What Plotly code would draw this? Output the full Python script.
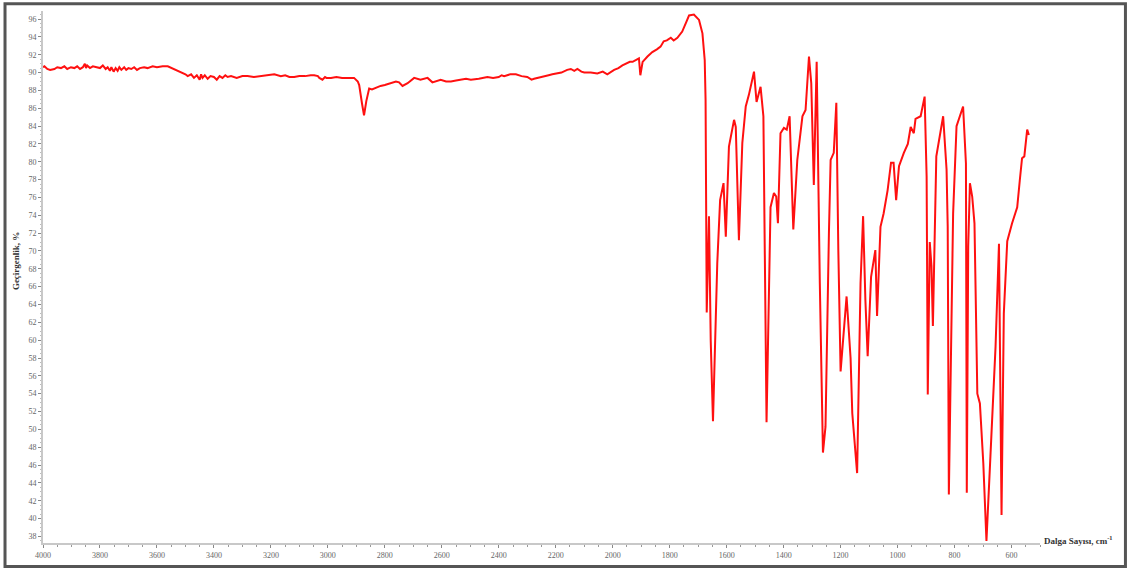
import plotly.graph_objects as go

# ==========================================
# SPECTRUM DATA
# ==========================================

wavenumber = [
    4000, 3995, 3985, 3975, 3960, 3950, 3937, 3925, 3915, 3902, 3890, 3880,
    3870, 3860, 3853, 3849, 3845, 3835, 3825, 3814, 3800, 3790, 3780, 3773,
    3765, 3760, 3752, 3745, 3738, 3732, 3725, 3715, 3708, 3700, 3690, 3680,
    3670, 3660, 3645, 3633, 3615, 3600, 3580, 3562, 3540, 3516, 3500, 3492,
    3480, 3470, 3460, 3450, 3445, 3440, 3432, 3422, 3412, 3400, 3390, 3380,
    3370, 3360, 3352, 3340, 3320, 3300, 3282, 3260, 3240, 3215, 3188, 3165,
    3150, 3135, 3118, 3100, 3080, 3060, 3048, 3035, 3030, 3019, 3010, 3005,
    2989, 2970, 2950, 2930, 2908, 2895, 2890, 2880, 2873, 2865, 2855, 2845,
    2832, 2815, 2800, 2780, 2761, 2750, 2738, 2720, 2697, 2675, 2650, 2633,
    2620, 2604, 2585, 2568, 2550, 2530, 2515, 2498, 2470, 2440, 2420, 2400,
    2390, 2381, 2360, 2340, 2320, 2300, 2285, 2276, 2260, 2241, 2225, 2212,
    2195, 2180, 2160, 2147, 2135, 2124, 2110, 2100, 2077, 2054, 2035, 2019,
    1995, 1980, 1966, 1950, 1940, 1930, 1919, 1908, 1903, 1895, 1878, 1861,
    1845, 1832, 1821, 1810, 1796, 1786, 1773, 1756, 1740, 1732, 1715, 1697,
    1685, 1677, 1674, 1670, 1662, 1656, 1648, 1633, 1623, 1611, 1603, 1592,
    1574, 1568, 1557, 1545, 1533, 1522, 1504, 1495, 1481, 1471, 1460, 1446,
    1434, 1426, 1420, 1411, 1399, 1389, 1379, 1366, 1352, 1334, 1323, 1311,
    1303, 1294, 1284, 1280, 1273, 1262, 1253, 1241, 1235, 1224, 1215, 1208,
    1200, 1179, 1165, 1159, 1142, 1130, 1121, 1113, 1105, 1093, 1078, 1072,
    1060, 1049, 1035, 1023, 1014, 1005, 995, 978, 964, 954, 943, 937, 919,
    905, 898, 894, 887, 881, 876, 864, 852, 840, 828, 824, 820, 812, 805,
    793, 770, 760, 757, 752, 746, 738, 730, 720, 711, 699, 688, 674, 656,
    644, 639, 635, 627, 615, 598, 580, 571, 563, 555, 545, 539
]

transmittance = [
    90.6, 90.7, 90.4, 90.3, 90.4, 90.6, 90.5, 90.7, 90.4, 90.6, 90.5, 90.7,
    90.4, 90.6, 91.0, 90.5, 90.8, 90.5, 90.7, 90.6, 90.5, 90.8, 90.4, 90.6,
    90.2, 90.6, 90.1, 90.5, 90.2, 90.6, 90.3, 90.6, 90.3, 90.5, 90.4, 90.6,
    90.3, 90.5, 90.6, 90.5, 90.7, 90.6, 90.7, 90.7, 90.4, 90.1, 89.8, 89.6,
    89.8, 89.4, 89.7, 89.2, 89.8, 89.4, 89.7, 89.3, 89.6, 89.5, 89.2, 89.6,
    89.4, 89.7, 89.5, 89.6, 89.4, 89.6, 89.6, 89.5, 89.6, 89.7, 89.8, 89.6,
    89.7, 89.5, 89.5, 89.6, 89.6, 89.7, 89.7, 89.6, 89.4, 89.2, 89.5, 89.4,
    89.4, 89.5, 89.4, 89.4, 89.4, 89.0, 88.6, 86.5, 85.2, 86.8, 88.2, 88.1,
    88.3, 88.5, 88.6, 88.8, 89.0, 88.9, 88.5, 88.8, 89.4, 89.2, 89.4, 88.9,
    89.0, 89.2, 89.0, 89.0, 89.1, 89.2, 89.3, 89.2, 89.3, 89.5, 89.4, 89.5,
    89.7, 89.6, 89.8, 89.8, 89.6, 89.5, 89.2, 89.3, 89.4, 89.6, 89.7, 89.8,
    89.9, 90.0, 90.3, 90.4, 90.2, 90.4, 90.1, 90.0, 90.0, 89.9, 90.1, 89.8,
    90.3, 90.5, 90.8, 91.0, 91.2, 91.2, 91.4, 91.6, 89.7, 91.2, 91.8, 92.3,
    92.6, 92.9, 93.5, 93.6, 93.9, 93.6, 93.9, 94.6, 95.8, 96.4, 96.5, 95.9,
    94.4, 91.4, 86.9, 63.1, 73.9, 60.0, 50.9, 68.6, 75.7, 77.6, 71.6, 81.7,
    84.7, 83.9, 71.2, 82.1, 86.2, 87.5, 90.1, 86.7, 88.4, 85.1, 50.8, 74.9,
    76.5, 76.1, 73.1, 83.2, 83.8, 83.6, 85.1, 72.4, 80.2, 85.1, 85.8, 91.8,
    88.8, 77.4, 91.2, 81.3, 66.4, 47.4, 50.3, 72.0, 80.2, 81.0, 86.6, 70.1,
    56.5, 64.9, 58.0, 51.8, 45.1, 66.4, 73.9, 64.5, 58.2, 67.1, 70.1, 62.7,
    72.7, 74.2, 76.8, 79.9, 79.9, 75.7, 79.5, 81.0, 82.0, 83.9, 83.2, 84.8,
    85.1, 87.3, 78.3, 53.9, 71.0, 68.3, 61.6, 80.6, 83.0, 85.1, 79.1, 72.7,
    42.7, 63.0, 74.2, 84.0, 86.2, 79.8, 42.9, 70.5, 77.6, 76.1, 73.1, 54.0,
    52.9, 46.2, 37.5, 47.0, 59.3, 70.8, 50.0, 40.4, 63.0, 71.1, 73.1, 74.9,
    77.9, 80.4, 80.6, 83.6, 83.0
]

x_ticks = list(range(4000, 599, -200))
y_ticks = list(range(38, 97, 2))

# ==========================================
# FIGURE
# ==========================================

fig = go.Figure()

fig.add_trace(

    go.Scatter(

        x=wavenumber,

        y=transmittance,

        mode="lines",

        line=dict(
            color="#ff1010",
            width=2
        ),

        showlegend=False
    )
)

axis_font = dict(
    family="Liberation Serif",
    size=8,
    color="#666666"
)

common_axis = dict(

    tickfont=axis_font,

    showgrid=False,

    zeroline=False,

    showline=True,

    linecolor="#c8c8c8",

    linewidth=2,

    ticks="outside",

    ticklen=3,

    tickcolor="#888888",

    automargin=False
)

fig.update_xaxes(

    range=[4000, 500],

    tickvals=x_ticks,

    minor=dict(
        dtick=50,
        ticks="outside",
        ticklen=2,
        tickcolor="#999999"
    ),

    **common_axis
)

fig.update_yaxes(

    range=[37.26, 96.9],

    tickvals=y_ticks,

    minor=dict(
        dtick=0.5,
        ticks="outside",
        ticklen=1,
        tickcolor="#bbbbbb"
    ),

    **common_axis
)

fig.update_layout(

    width=1129,

    height=570,

    margin=dict(l=43, r=89, t=11, b=27, autoexpand=False),

    paper_bgcolor="white",

    plot_bgcolor="white",

    annotations=[

        dict(
            text="<b>Dalga Sayısı, cm<sup>-1</sup></b>",
            xref="paper",
            yref="paper",
            x=1.002,
            y=0.006,
            xanchor="left",
            yanchor="middle",
            showarrow=False,
            font=dict(
                family="Liberation Serif",
                size=9,
                color="#333333"
            )
        ),

        dict(
            text="<b>Geçirgenlik, %</b>",
            xref="paper",
            yref="paper",
            x=-0.027,
            y=0.53,
            xanchor="center",
            yanchor="middle",
            textangle=-90,
            showarrow=False,
            font=dict(
                family="Liberation Serif",
                size=9,
                color="#333333"
            )
        )
    ],

    shapes=[

        dict(
            type="rect",
            xref="paper",
            yref="paper",
            x0=-0.0381,
            x1=1.0857,
            y0=-0.044,
            y1=1.0135,
            line=dict(
                color="#555555",
                width=3
            )
        )
    ]
)

# the page body has a default 8px margin; drop it so the
# figure sits at the window's top-left corner
fig.write_html(
    "out.html",
    config={"displayModeBar": False},
    post_script="document.body.style.margin='0px';"
)
